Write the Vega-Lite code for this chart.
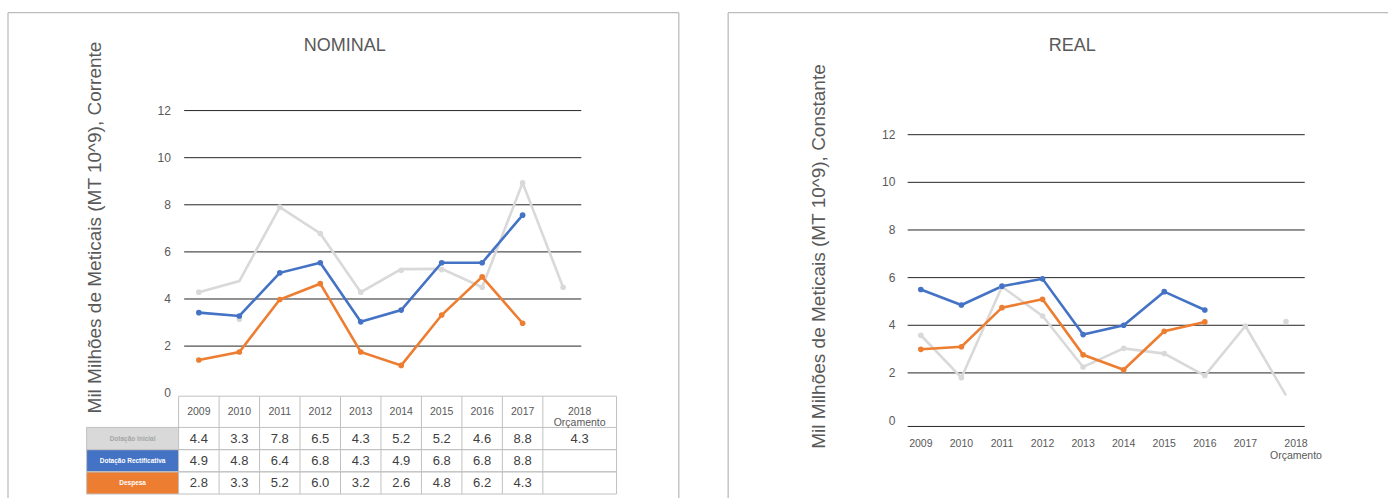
{
  "$schema": "https://vega.github.io/schema/vega-lite/v6.json",
  "width": 1389,
  "height": 499,
  "autosize": {"type": "fit", "contains": "padding"},
  "padding": 0,
  "config": {
    "font": "Liberation Sans",
    "view": {"stroke": null}
  },
  "datasets": {
    "nominal": [
      {"serie": "Dotação Inicial", "ano": 2009, "valor": 4.29, "marcador": 4.29, "tabela": 4.4},
      {"serie": "Dotação Inicial", "ano": 2010, "valor": 4.76, "marcador": 3.14, "tabela": 3.3},
      {"serie": "Dotação Inicial", "ano": 2011, "valor": 7.9, "marcador": 7.9, "tabela": 7.8},
      {"serie": "Dotação Inicial", "ano": 2012, "valor": 6.78, "marcador": 6.78, "tabela": 6.5},
      {"serie": "Dotação Inicial", "ano": 2013, "valor": 4.29, "marcador": 4.29, "tabela": 4.3},
      {"serie": "Dotação Inicial", "ano": 2014, "valor": 5.27, "marcador": 5.22, "tabela": 5.2},
      {"serie": "Dotação Inicial", "ano": 2015, "valor": 5.28, "marcador": 5.25, "tabela": 5.2},
      {"serie": "Dotação Inicial", "ano": 2016, "valor": 4.5, "marcador": 4.5, "tabela": 4.6},
      {"serie": "Dotação Inicial", "ano": 2017, "valor": 8.93, "marcador": 8.93, "tabela": 8.8},
      {"serie": "Dotação Inicial", "ano": 2018, "valor": 4.5, "marcador": 4.5, "tabela": 4.3},
      {"serie": "Dotação Rectificativa", "ano": 2009, "valor": 3.42, "marcador": 3.42, "tabela": 4.9},
      {"serie": "Dotação Rectificativa", "ano": 2010, "valor": 3.28, "marcador": 3.28, "tabela": 4.8},
      {"serie": "Dotação Rectificativa", "ano": 2011, "valor": 5.11, "marcador": 5.11, "tabela": 6.4},
      {"serie": "Dotação Rectificativa", "ano": 2012, "valor": 5.54, "marcador": 5.54, "tabela": 6.8},
      {"serie": "Dotação Rectificativa", "ano": 2013, "valor": 3.03, "marcador": 3.03, "tabela": 4.3},
      {"serie": "Dotação Rectificativa", "ano": 2014, "valor": 3.53, "marcador": 3.53, "tabela": 4.9},
      {"serie": "Dotação Rectificativa", "ano": 2015, "valor": 5.54, "marcador": 5.54, "tabela": 6.8},
      {"serie": "Dotação Rectificativa", "ano": 2016, "valor": 5.54, "marcador": 5.54, "tabela": 6.8},
      {"serie": "Dotação Rectificativa", "ano": 2017, "valor": 7.56, "marcador": 7.56, "tabela": 8.8},
      {"serie": "Despesa", "ano": 2009, "valor": 1.41, "marcador": 1.41, "tabela": 2.8},
      {"serie": "Despesa", "ano": 2010, "valor": 1.75, "marcador": 1.75, "tabela": 3.3},
      {"serie": "Despesa", "ano": 2011, "valor": 3.98, "marcador": 3.98, "tabela": 5.2},
      {"serie": "Despesa", "ano": 2012, "valor": 4.65, "marcador": 4.65, "tabela": 6.0},
      {"serie": "Despesa", "ano": 2013, "valor": 1.75, "marcador": 1.75, "tabela": 3.2},
      {"serie": "Despesa", "ano": 2014, "valor": 1.18, "marcador": 1.18, "tabela": 2.6},
      {"serie": "Despesa", "ano": 2015, "valor": 3.32, "marcador": 3.32, "tabela": 4.8},
      {"serie": "Despesa", "ano": 2016, "valor": 4.94, "marcador": 4.94, "tabela": 6.2},
      {"serie": "Despesa", "ano": 2017, "valor": 2.97, "marcador": 2.97, "tabela": 4.3}
    ],
    "real": [
      {"serie": "Dotação Inicial", "ano": 2009, "valor": 3.58, "marcador": 3.58},
      {"serie": "Dotação Inicial", "ano": 2010, "valor": 1.8, "marcador": 1.8},
      {"serie": "Dotação Inicial", "ano": 2011, "valor": 5.62, "marcador": 5.62},
      {"serie": "Dotação Inicial", "ano": 2012, "valor": 4.39, "marcador": 4.39},
      {"serie": "Dotação Inicial", "ano": 2013, "valor": 2.25, "marcador": 2.25},
      {"serie": "Dotação Inicial", "ano": 2014, "valor": 3.03, "marcador": 3.03},
      {"serie": "Dotação Inicial", "ano": 2015, "valor": 2.81, "marcador": 2.81},
      {"serie": "Dotação Inicial", "ano": 2016, "valor": 1.89, "marcador": 1.89},
      {"serie": "Dotação Inicial", "ano": 2017, "valor": 3.97, "marcador": 3.97},
      {"serie": "Dotação Inicial", "ano": 2018, "valor": 1.06, "marcador": 4.15},
      {"serie": "Dotação Rectificativa", "ano": 2009, "valor": 5.5, "marcador": 5.5},
      {"serie": "Dotação Rectificativa", "ano": 2010, "valor": 4.85, "marcador": 4.85},
      {"serie": "Dotação Rectificativa", "ano": 2011, "valor": 5.64, "marcador": 5.64},
      {"serie": "Dotação Rectificativa", "ano": 2012, "valor": 5.95, "marcador": 5.95},
      {"serie": "Dotação Rectificativa", "ano": 2013, "valor": 3.61, "marcador": 3.61},
      {"serie": "Dotação Rectificativa", "ano": 2014, "valor": 4.0, "marcador": 4.0},
      {"serie": "Dotação Rectificativa", "ano": 2015, "valor": 5.41, "marcador": 5.41},
      {"serie": "Dotação Rectificativa", "ano": 2016, "valor": 4.64, "marcador": 4.64},
      {"serie": "Despesa", "ano": 2009, "valor": 2.99, "marcador": 2.99},
      {"serie": "Despesa", "ano": 2010, "valor": 3.1, "marcador": 3.1},
      {"serie": "Despesa", "ano": 2011, "valor": 4.74, "marcador": 4.74},
      {"serie": "Despesa", "ano": 2012, "valor": 5.09, "marcador": 5.09},
      {"serie": "Despesa", "ano": 2013, "valor": 2.76, "marcador": 2.76},
      {"serie": "Despesa", "ano": 2014, "valor": 2.13, "marcador": 2.13},
      {"serie": "Despesa", "ano": 2015, "valor": 3.75, "marcador": 3.75},
      {"serie": "Despesa", "ano": 2016, "valor": 4.14, "marcador": 4.14}
    ],
    "niveis": [{"nivel": 0}, {"nivel": 2}, {"nivel": 4}, {"nivel": 6}, {"nivel": 8}, {"nivel": 10}, {"nivel": 12}],
    "linhas": [
      {"serie": "Dotação Inicial", "ordem": 1},
      {"serie": "Dotação Rectificativa", "ordem": 2},
      {"serie": "Despesa", "ordem": 3}
    ]
  },
  "layer": [
    {
      "layer": [
        {
          "layer": [
            {
              "data": {"values": [{}]},
              "mark": {"type": "rule", "color": "#bdbdbd", "strokeWidth": 1.3},
              "encoding": {
                "x": {"datum": 2004.284, "type": "quantitative", "scale": {"domain": [2004.0864, 2038.3827], "nice": false, "zero": false}, "axis": null},
                "y": {"datum": 16.157, "type": "quantitative", "scale": {"domain": [-4.4492, 16.6949], "nice": false, "zero": false}, "axis": null},
                "y2": {"datum": -4.4492}
              }
            },
            {
              "data": {"values": [{}]},
              "mark": {"type": "rule", "color": "#bdbdbd", "strokeWidth": 1.3},
              "encoding": {
                "x": {"datum": 2004.284, "type": "quantitative", "scale": {"domain": [2004.0864, 2038.3827], "nice": false, "zero": false}, "axis": null},
                "x2": {"datum": 2020.859},
                "y": {"datum": 16.157, "type": "quantitative", "scale": {"domain": [-4.4492, 16.6949], "nice": false, "zero": false}, "axis": null}
              }
            },
            {
              "data": {"values": [{}]},
              "mark": {"type": "rule", "color": "#bdbdbd", "strokeWidth": 1.3},
              "encoding": {
                "x": {"datum": 2020.859, "type": "quantitative", "scale": {"domain": [2004.0864, 2038.3827], "nice": false, "zero": false}, "axis": null},
                "y": {"datum": 16.157, "type": "quantitative", "scale": {"domain": [-4.4492, 16.6949], "nice": false, "zero": false}, "axis": null},
                "y2": {"datum": -4.4492}
              }
            },
            {
              "data": {"values": [{"titulo": "NOMINAL"}]},
              "mark": {"type": "text", "fontSize": 18, "color": "#595959", "align": "center", "baseline": "middle"},
              "encoding": {
                "x": {"datum": 2012.605, "type": "quantitative", "scale": {"domain": [2004.0864, 2038.3827], "nice": false, "zero": false}, "axis": null},
                "y": {"datum": 14.746, "type": "quantitative", "scale": {"domain": [-4.4492, 16.6949], "nice": false, "zero": false}, "axis": null},
                "text": {"field": "titulo"}
              }
            },
            {
              "data": {"values": [{"titulo": "Mil Milhões de Meticais (MT 10^9), Corrente"}]},
              "mark": {"type": "text", "fontSize": 19, "color": "#595959", "align": "center", "baseline": "middle", "angle": 270},
              "encoding": {
                "x": {"datum": 2006.432, "type": "quantitative", "scale": {"domain": [2004.0864, 2038.3827], "nice": false, "zero": false}, "axis": null},
                "y": {"datum": 7.034, "type": "quantitative", "scale": {"domain": [-4.4492, 16.6949], "nice": false, "zero": false}, "axis": null},
                "text": {"field": "titulo"}
              }
            },
            {
              "data": {"name": "niveis"},
              "transform": [{"filter": "datum.nivel > 0"}],
              "mark": {"type": "rule", "color": "#262626", "strokeWidth": 1},
              "encoding": {
                "x": {"datum": 2008.637, "type": "quantitative", "scale": {"domain": [2004.0864, 2038.3827], "nice": false, "zero": false}, "axis": null},
                "x2": {"datum": 2018.449},
                "y": {"field": "nivel", "type": "quantitative", "scale": {"domain": [-4.4492, 16.6949], "nice": false, "zero": false}, "axis": null}
              }
            },
            {
              "data": {"name": "niveis"},
              "mark": {"type": "text", "fontSize": 12, "color": "#595959", "align": "right", "baseline": "middle"},
              "encoding": {
                "x": {"datum": 2008.309, "type": "quantitative", "scale": {"domain": [2004.0864, 2038.3827], "nice": false, "zero": false}, "axis": null},
                "y": {"field": "nivel", "type": "quantitative", "scale": {"domain": [-4.4492, 16.6949], "nice": false, "zero": false}, "axis": null},
                "text": {"field": "nivel", "type": "quantitative", "format": "d"}
              }
            },
            {
              "data": {"name": "nominal"},
              "mark": {"type": "line", "strokeWidth": 2.6},
              "encoding": {
                "x": {"field": "ano", "type": "quantitative", "scale": {"domain": [2004.0864, 2038.3827], "nice": false, "zero": false}, "axis": null},
                "y": {"field": "valor", "type": "quantitative", "scale": {"domain": [-4.4492, 16.6949], "nice": false, "zero": false}, "axis": null},
                "color": {
                  "field": "serie", "type": "nominal",
                  "scale": {"domain": ["Dotação Inicial", "Dotação Rectificativa", "Despesa"], "range": ["#d9d9d9", "#4472c4", "#ed7d31"]},
                  "legend": null
                }
              }
            },
            {
              "data": {"name": "nominal"},
              "mark": {"type": "circle", "size": 32, "opacity": 1},
              "encoding": {
                "x": {"field": "ano", "type": "quantitative", "scale": {"domain": [2004.0864, 2038.3827], "nice": false, "zero": false}, "axis": null},
                "y": {"field": "marcador", "type": "quantitative", "scale": {"domain": [-4.4492, 16.6949], "nice": false, "zero": false}, "axis": null},
                "color": {"field": "serie", "type": "nominal", "legend": null}
              }
            }
          ]
        },
        {
          "layer": [
            {
              "data": {"name": "linhas"},
              "mark": {"type": "rule", "strokeWidth": 22.2, "strokeCap": "butt"},
              "encoding": {
                "x": {"datum": 2006.227, "type": "quantitative", "scale": {"domain": [2004.0864, 2038.3827], "nice": false, "zero": false}, "axis": null},
                "x2": {"datum": 2008.5},
                "y": {"field": "ordem", "type": "quantitative", "scale": {"domain": [-18.764, 3.68], "reverse": true, "nice": false, "zero": false}, "axis": null},
                "color": {"field": "serie", "type": "nominal", "legend": null}
              }
            },
            {
              "data": {"name": "linhas"},
              "mark": {"type": "rule", "color": "#c0c0c0", "strokeWidth": 1, "yOffset": -11.1},
              "encoding": {
                "x": {"datum": 2006.227, "type": "quantitative", "scale": {"domain": [2004.0864, 2038.3827], "nice": false, "zero": false}, "axis": null},
                "x2": {"datum": 2019.321},
                "y": {"field": "ordem", "type": "quantitative", "scale": {"domain": [-18.764, 3.68], "reverse": true, "nice": false, "zero": false}, "axis": null}
              }
            },
            {
              "data": {"name": "linhas"},
              "mark": {"type": "rule", "color": "#c0c0c0", "strokeWidth": 1, "yOffset": 11.1},
              "encoding": {
                "x": {"datum": 2006.227, "type": "quantitative", "scale": {"domain": [2004.0864, 2038.3827], "nice": false, "zero": false}, "axis": null},
                "x2": {"datum": 2019.321},
                "y": {"field": "ordem", "type": "quantitative", "scale": {"domain": [-18.764, 3.68], "reverse": true, "nice": false, "zero": false}, "axis": null}
              }
            },
            {
              "data": {"values": [{}]},
              "mark": {"type": "rule", "color": "#c0c0c0", "strokeWidth": 1},
              "encoding": {
                "x": {"datum": 2008.5, "type": "quantitative", "scale": {"domain": [2004.0864, 2038.3827], "nice": false, "zero": false}, "axis": null},
                "x2": {"datum": 2019.321},
                "y": {"datum": -0.908, "type": "quantitative", "scale": {"domain": [-18.764, 3.68], "reverse": true, "nice": false, "zero": false}, "axis": null}
              }
            },
            {
              "data": {"name": "nominal"},
              "transform": [{"filter": "datum.serie == 'Dotação Inicial'"}],
              "mark": {"type": "rule", "color": "#c0c0c0", "strokeWidth": 1, "xOffset": -20.25},
              "encoding": {
                "x": {"field": "ano", "type": "quantitative", "scale": {"domain": [2004.0864, 2038.3827], "nice": false, "zero": false}, "axis": null},
                "y": {"datum": -0.908, "type": "quantitative", "scale": {"domain": [-18.764, 3.68], "reverse": true, "nice": false, "zero": false}, "axis": null},
                "y2": {"datum": 3.5}
              }
            },
            {
              "data": {"values": [{}]},
              "mark": {"type": "rule", "color": "#c0c0c0", "strokeWidth": 1},
              "encoding": {
                "x": {"datum": 2019.321, "type": "quantitative", "scale": {"domain": [2004.0864, 2038.3827], "nice": false, "zero": false}, "axis": null},
                "y": {"datum": -0.908, "type": "quantitative", "scale": {"domain": [-18.764, 3.68], "reverse": true, "nice": false, "zero": false}, "axis": null},
                "y2": {"datum": 3.5}
              }
            },
            {
              "data": {"values": [{}]},
              "mark": {"type": "rule", "color": "#c0c0c0", "strokeWidth": 1},
              "encoding": {
                "x": {"datum": 2006.227, "type": "quantitative", "scale": {"domain": [2004.0864, 2038.3827], "nice": false, "zero": false}, "axis": null},
                "y": {"datum": 0.5, "type": "quantitative", "scale": {"domain": [-18.764, 3.68], "reverse": true, "nice": false, "zero": false}, "axis": null},
                "y2": {"datum": 3.5}
              }
            },
            {
              "data": {"name": "linhas"},
              "mark": {"type": "text", "fontSize": 6.5, "fontWeight": "bold", "align": "center", "baseline": "middle"},
              "encoding": {
                "x": {"datum": 2007.363, "type": "quantitative", "scale": {"domain": [2004.0864, 2038.3827], "nice": false, "zero": false}, "axis": null},
                "y": {"field": "ordem", "type": "quantitative", "scale": {"domain": [-18.764, 3.68], "reverse": true, "nice": false, "zero": false}, "axis": null},
                "text": {"field": "serie"},
                "color": {"condition": {"test": "datum.serie == 'Dotação Inicial'", "value": "#a6a6a6"}, "value": "#ffffff"}
              }
            },
            {
              "data": {"name": "nominal"},
              "transform": [
                {"filter": "datum.ano < 2018"},
                {"lookup": "serie", "from": {"data": {"name": "linhas"}, "key": "serie", "fields": ["ordem"]}}
              ],
              "mark": {"type": "text", "fontSize": 13, "color": "#404040", "align": "center", "baseline": "middle"},
              "encoding": {
                "x": {"field": "ano", "type": "quantitative", "scale": {"domain": [2004.0864, 2038.3827], "nice": false, "zero": false}, "axis": null},
                "y": {"field": "ordem", "type": "quantitative", "scale": {"domain": [-18.764, 3.68], "reverse": true, "nice": false, "zero": false}, "axis": null},
                "text": {"field": "tabela", "type": "quantitative", "format": ".1f"}
              }
            },
            {
              "data": {"name": "nominal"},
              "transform": [
                {"filter": "datum.ano == 2018"},
                {"lookup": "serie", "from": {"data": {"name": "linhas"}, "key": "serie", "fields": ["ordem"]}}
              ],
              "mark": {"type": "text", "fontSize": 13, "color": "#404040", "align": "center", "baseline": "middle", "dx": 16.5},
              "encoding": {
                "x": {"field": "ano", "type": "quantitative", "scale": {"domain": [2004.0864, 2038.3827], "nice": false, "zero": false}, "axis": null},
                "y": {"field": "ordem", "type": "quantitative", "scale": {"domain": [-18.764, 3.68], "reverse": true, "nice": false, "zero": false}, "axis": null},
                "text": {"field": "tabela", "type": "quantitative", "format": ".1f"}
              }
            },
            {
              "data": {"name": "nominal"},
              "transform": [{"filter": "datum.serie == 'Dotação Inicial' && datum.ano < 2018"}],
              "mark": {"type": "text", "fontSize": 10.5, "color": "#595959", "align": "center", "baseline": "middle"},
              "encoding": {
                "x": {"field": "ano", "type": "quantitative", "scale": {"domain": [2004.0864, 2038.3827], "nice": false, "zero": false}, "axis": null},
                "y": {"datum": -0.211, "type": "quantitative", "scale": {"domain": [-18.764, 3.68], "reverse": true, "nice": false, "zero": false}, "axis": null},
                "text": {"field": "ano", "type": "quantitative", "format": "d"}
              }
            },
            {
              "data": {"name": "nominal"},
              "transform": [{"filter": "datum.serie == 'Dotação Inicial' && datum.ano == 2018"}],
              "mark": {"type": "text", "fontSize": 10.5, "color": "#595959", "align": "center", "baseline": "middle", "lineHeight": 11.5, "dx": 16.5},
              "encoding": {
                "x": {"field": "ano", "type": "quantitative", "scale": {"domain": [2004.0864, 2038.3827], "nice": false, "zero": false}, "axis": null},
                "y": {"datum": -0.211, "type": "quantitative", "scale": {"domain": [-18.764, 3.68], "reverse": true, "nice": false, "zero": false}, "axis": null},
                "text": {"value": ["2018", "Orçamento"]}
              }
            }
          ]
        }
      ],
      "resolve": {"scale": {"y": "independent"}}
    },
    {
      "layer": [
        {
          "data": {"values": [{}]},
          "mark": {"type": "rule", "color": "#bdbdbd", "strokeWidth": 1.3},
          "encoding": {
            "x": {"datum": 2004.251, "type": "quantitative", "scale": {"domain": [1986.303, 2020.515], "nice": false, "zero": false}, "axis": null},
            "y": {"datum": 17.122, "type": "quantitative", "scale": {"domain": [-3.251, 17.654], "nice": false, "zero": false}, "axis": null},
            "y2": {"datum": -3.251}
          }
        },
        {
          "data": {"values": [{}]},
          "mark": {"type": "rule", "color": "#bdbdbd", "strokeWidth": 1.3},
          "encoding": {
            "x": {"datum": 2004.251, "type": "quantitative", "scale": {"domain": [1986.303, 2020.515], "nice": false, "zero": false}, "axis": null},
            "x2": {"datum": 2020.515},
            "y": {"datum": 17.122, "type": "quantitative", "scale": {"domain": [-3.251, 17.654], "nice": false, "zero": false}, "axis": null}
          }
        },
        {
          "data": {"values": [{"titulo": "REAL"}]},
          "mark": {"type": "text", "fontSize": 18, "color": "#595959", "align": "center", "baseline": "middle"},
          "encoding": {
            "x": {"datum": 2012.732, "type": "quantitative", "scale": {"domain": [1986.303, 2020.515], "nice": false, "zero": false}, "axis": null},
            "y": {"datum": 15.727, "type": "quantitative", "scale": {"domain": [-3.251, 17.654], "nice": false, "zero": false}, "axis": null},
            "text": {"field": "titulo"}
          }
        },
        {
          "data": {"values": [{"titulo": "Mil Milhões de Meticais (MT 10^9), Constante"}]},
          "mark": {"type": "text", "fontSize": 19, "color": "#595959", "align": "center", "baseline": "middle", "angle": 270},
          "encoding": {
            "x": {"datum": 2006.5, "type": "quantitative", "scale": {"domain": [1986.303, 2020.515], "nice": false, "zero": false}, "axis": null},
            "y": {"datum": 6.887, "type": "quantitative", "scale": {"domain": [-3.251, 17.654], "nice": false, "zero": false}, "axis": null},
            "text": {"field": "titulo"}
          }
        },
        {
          "data": {"name": "niveis"},
          "transform": [{"filter": "datum.nivel > 0"}],
          "mark": {"type": "rule", "color": "#262626", "strokeWidth": 1},
          "encoding": {
            "x": {"datum": 2008.675, "type": "quantitative", "scale": {"domain": [1986.303, 2020.515], "nice": false, "zero": false}, "axis": null},
            "x2": {"datum": 2018.463},
            "y": {"field": "nivel", "type": "quantitative", "scale": {"domain": [-3.251, 17.654], "nice": false, "zero": false}, "axis": null}
          }
        },
        {
          "data": {"name": "niveis"},
          "transform": [{"filter": "datum.nivel == 0"}],
          "mark": {"type": "rule", "color": "#262626", "strokeWidth": 1, "yOffset": 5.9},
          "encoding": {
            "x": {"datum": 2008.675, "type": "quantitative", "scale": {"domain": [1986.303, 2020.515], "nice": false, "zero": false}, "axis": null},
            "x2": {"datum": 2018.463},
            "y": {"field": "nivel", "type": "quantitative", "scale": {"domain": [-3.251, 17.654], "nice": false, "zero": false}, "axis": null}
          }
        },
        {
          "data": {"name": "niveis"},
          "mark": {"type": "text", "fontSize": 12, "color": "#595959", "align": "right", "baseline": "middle"},
          "encoding": {
            "x": {"datum": 2008.372, "type": "quantitative", "scale": {"domain": [1986.303, 2020.515], "nice": false, "zero": false}, "axis": null},
            "y": {"field": "nivel", "type": "quantitative", "scale": {"domain": [-3.251, 17.654], "nice": false, "zero": false}, "axis": null},
            "text": {"field": "nivel", "type": "quantitative", "format": "d"}
          }
        },
        {
          "data": {"name": "real"},
          "transform": [{"filter": "datum.serie == 'Dotação Inicial' && datum.ano < 2018"}],
          "mark": {"type": "text", "fontSize": 10.5, "color": "#595959", "align": "center", "baseline": "top"},
          "encoding": {
            "x": {"field": "ano", "type": "quantitative", "scale": {"domain": [1986.303, 2020.515], "nice": false, "zero": false}, "axis": null},
            "y": {"datum": -0.779, "type": "quantitative", "scale": {"domain": [-3.251, 17.654], "nice": false, "zero": false}, "axis": null},
            "text": {"field": "ano", "type": "quantitative", "format": "d"}
          }
        },
        {
          "data": {"name": "real"},
          "transform": [{"filter": "datum.serie == 'Dotação Inicial' && datum.ano == 2018"}],
          "mark": {"type": "text", "fontSize": 10.5, "color": "#595959", "align": "center", "baseline": "top", "lineHeight": 12, "dx": 10},
          "encoding": {
            "x": {"field": "ano", "type": "quantitative", "scale": {"domain": [1986.303, 2020.515], "nice": false, "zero": false}, "axis": null},
            "y": {"datum": -0.779, "type": "quantitative", "scale": {"domain": [-3.251, 17.654], "nice": false, "zero": false}, "axis": null},
            "text": {"value": ["2018", "Orçamento"]}
          }
        },
        {
          "data": {"name": "real"},
          "mark": {"type": "line", "strokeWidth": 2.6},
          "encoding": {
            "x": {"field": "ano", "type": "quantitative", "scale": {"domain": [1986.303, 2020.515], "nice": false, "zero": false}, "axis": null},
            "y": {"field": "valor", "type": "quantitative", "scale": {"domain": [-3.251, 17.654], "nice": false, "zero": false}, "axis": null},
            "color": {"field": "serie", "type": "nominal", "legend": null}
          }
        },
        {
          "data": {"name": "real"},
          "mark": {"type": "circle", "size": 32, "opacity": 1},
          "encoding": {
            "x": {"field": "ano", "type": "quantitative", "scale": {"domain": [1986.303, 2020.515], "nice": false, "zero": false}, "axis": null},
            "y": {"field": "marcador", "type": "quantitative", "scale": {"domain": [-3.251, 17.654], "nice": false, "zero": false}, "axis": null},
            "color": {"field": "serie", "type": "nominal", "legend": null}
          }
        }
      ]
    }
  ],
  "resolve": {"scale": {"x": "independent", "y": "independent"}}
}
